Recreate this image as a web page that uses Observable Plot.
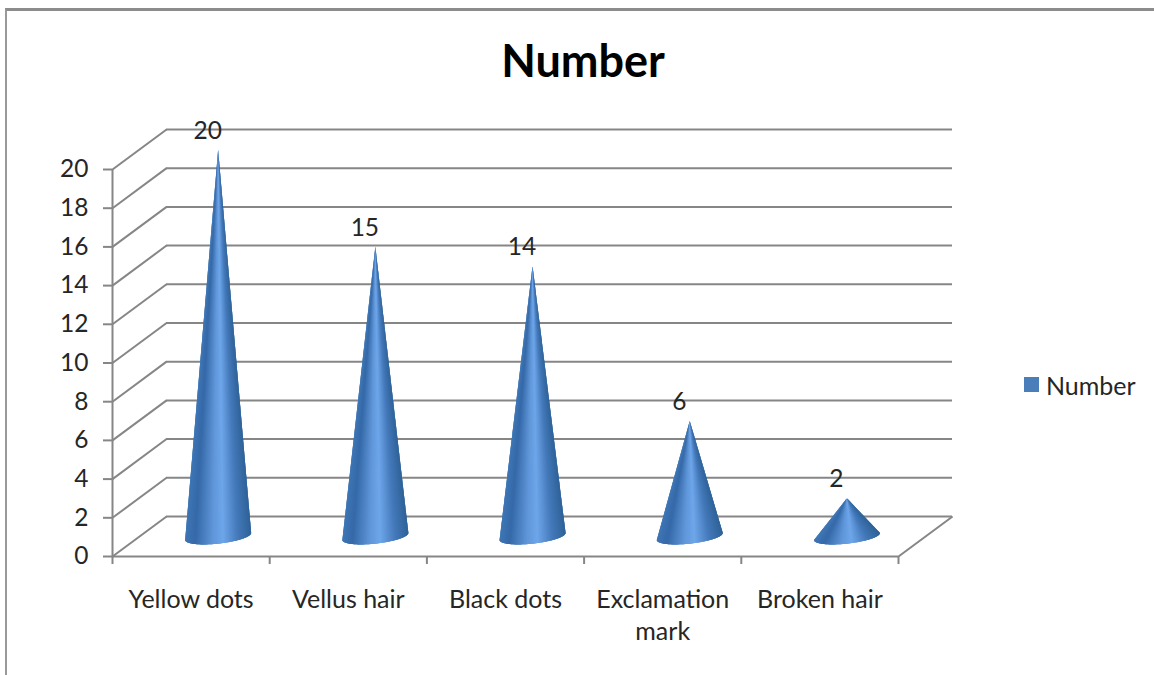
<!DOCTYPE html>
<html>
<head>
<meta charset="utf-8">
<script src="https://cdn.jsdelivr.net/npm/d3@7"></script>
<script src="https://cdn.jsdelivr.net/npm/@observablehq/plot@0.6"></script>
<style>
  html, body { margin: 0; padding: 0; background: #fff; overflow: hidden; }
  #frame { position: absolute; left: 5px; top: 8px; right: -5px; bottom: -5px;
           border-top: 3px solid #8c8c8c; border-left: 2px solid #999; pointer-events: none; }
  figure { margin: 0 !important; }
  h2 { margin: 0; height: 110px; box-sizing: border-box; padding: 34px 0 0 12px; text-align: center;
       font: bold 45px/52px Lato, sans-serif; color: #000; }
  #legend { position: absolute; left: 1024px; top: 368px; }
  #legend svg { margin-right: 7px !important; }
</style>
</head>
<body>
<div id="frame"></div>
<div id="chart"></div>
<div id="legend"></div>
<script>
const categories = ["Yellow dots", "Vellus hair", "Black dots", "Exclamation\nmark", "Broken hair"];
const values = [20, 15, 14, 6, 2];
const yTicks = [0, 2, 4, 6, 8, 10, 12, 14, 16, 18, 20];
const xEdges = [0, 1, 2, 3, 4, 5];
const seriesName = "Number";

// Oblique depth of the 3D box, in data units
const depthX = 0.344, depthY = 2.07;
// Cone base ellipse, in data units
const coneHalfWidth = 0.21, baseTilt = 0.18, baseBulge = 0.37;
const wedgeCount = 72;

const gridColor = "#868686", textColor = "#262626", font = "Lato, sans-serif";
const numberSize = 24.5, labelSize = 25;

// Each facet overlaps the next one, so no seams show between facets
const wedges = values.flatMap((v, i) => {
  const cx = i + 0.5 + depthX / 2;
  const cy = depthY / 2;
  const basePoint = (t) => {
    const u = -Math.cos(t);
    return { x: cx + coneHalfWidth * u, y: cy + baseTilt * u - baseBulge * Math.sin(t) };
  };
  return d3.range(wedgeCount).flatMap((k) => {
    const t0 = Math.PI * k / wedgeCount;
    const t1 = Math.PI * Math.min(k + 3, wedgeCount) / wedgeCount;
    const u = -Math.cos(Math.PI * (k + 0.5) / wedgeCount);
    const id = `${i}-${k}`;
    const tip = { x: cx, y: v + cy - 0.03, u, id };
    return [tip, { ...basePoint(t0), u, id }, { ...basePoint((t0 + t1) / 2), u, id }, { ...basePoint(t1), u, id }, tip];
  });
});

const chart = Plot.plot({
  title: seriesName,
  width: 1154, height: 565,
  marginLeft: 112, marginRight: 256, marginTop: 59, marginBottom: 119,
  x: { domain: [0, 5] },
  y: { domain: [0, 20] },
  color: {
    type: "linear",
    domain: [-1, -0.7, -0.15, 0.15, 0.6, 1],
    range: ["#3f76b5", "#3569a8", "#6097da", "#6ea6ea", "#4479ba", "#2f6399"]
  },
  style: { background: "transparent", overflow: "visible" },
  marks: [
    // back wall
    Plot.ruleY(yTicks, { x1: 0, x2: 5, dx: 54, dy: -40, stroke: gridColor, strokeWidth: 2 }),
    // left wall
    Plot.link(yTicks, { x1: 0, y1: (d) => d, x2: depthX, y2: (d) => d + depthY, stroke: gridColor, strokeWidth: 2 }),
    // floor right edge and front edges
    Plot.link([0], { x1: 5, y1: 0, x2: 5 + depthX, y2: depthY, stroke: gridColor, strokeWidth: 2 }),
    Plot.ruleY([0], { x1: 0, x2: 5, stroke: gridColor, strokeWidth: 2 }),
    Plot.ruleX([0], { y1: 0, y2: 20, stroke: gridColor, strokeWidth: 2 }),
    // axes
    Plot.axisY({ ticks: yTicks, tickSize: 9, tickPadding: 15, label: null, stroke: gridColor, strokeWidth: 2,
                 fill: textColor, fontSize: numberSize, fontFamily: font }),
    Plot.axisX({ ticks: xEdges, tickSize: 8, tickFormat: () => "", label: null, stroke: gridColor, strokeWidth: 2 }),
    Plot.axisX({ ticks: categories.map((_, i) => i + 0.5), tickSize: 0, tickPadding: 29, label: null,
                 tickFormat: (d) => categories[d - 0.5], fill: textColor, fontSize: labelSize, fontFamily: font,
                 lineHeight: 1.28, lineWidth: 30 }),
    // cones
    Plot.line(wedges, { x: "x", y: "y", z: "id", fill: "u", stroke: "none", curve: "linear",
                        imageFilter: "blur(0.5px)" }),
    // value labels
    Plot.text(values, { x: (_, i) => i + 0.5 + depthX / 2, y: (d) => d + depthY / 2, text: (d) => String(d),
                        dx: -10.5, dy: -18.5, fill: textColor, fontSize: numberSize, fontFamily: font })
  ]
});
document.getElementById("chart").append(chart);

const legend = Plot.legend({
  color: { type: "ordinal", domain: [seriesName], range: ["#4a7ebb"] },
  swatchSize: 15,
  style: { fontFamily: font, fontSize: "25px", color: textColor, margin: 0 }
});
document.getElementById("legend").append(legend);
</script>
</body>
</html>
